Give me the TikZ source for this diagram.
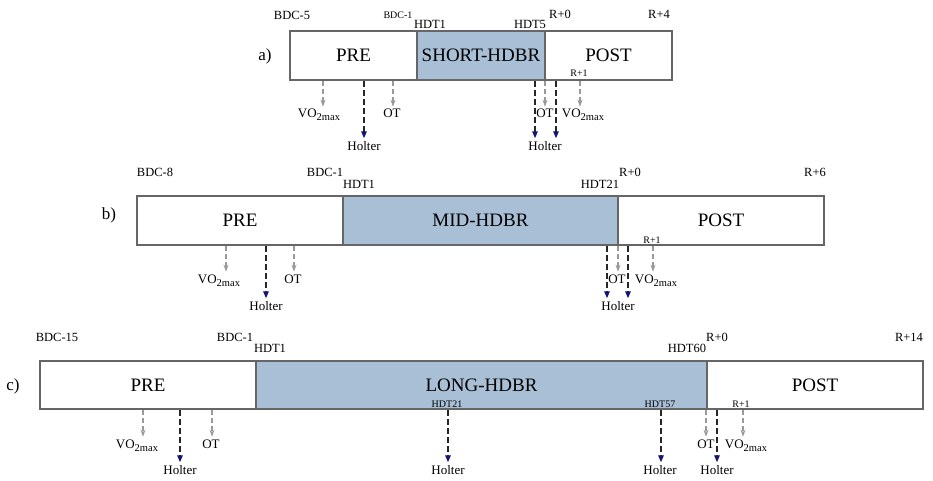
\documentclass[tikz,border=0pt]{standalone}
\usepackage{fontspec}
\setmainfont{Liberation Serif}
\usepackage{xcolor}
\usetikzlibrary{arrows.meta}

\definecolor{bedblue}{RGB}{169,191,214}
\definecolor{holterblue}{RGB}{20,20,115}
\newcommand{\vomax}{VO\raisebox{-3pt}{\fontsize{10.5}{11}\selectfont 2max}}

\begin{document}
\begin{tikzpicture}[x = 1pt, y = -1pt,
		phase/.style = {draw = black!60, line width = 1.2pt},
		bed/.style = {phase, fill = bedblue},
		big/.style = {font = \fontsize{19}{20}\selectfont},
		tagl/.style = {font = \fontsize{17}{18}\selectfont},
		day/.style = {anchor = base, inner sep = 1pt, font = \fontsize{12.5}{13}\selectfont},
		sday/.style = {day, font = \fontsize{10}{11}\selectfont},
		test/.style = {anchor = base, inner sep = 1pt, font = \fontsize{13}{14}\selectfont},
		measure/.style = {draw = black!40, line width = 1.1pt, dash pattern = on 5pt off 3pt, shorten > = 1.5pt, -{Stealth[length = 7pt, width = 5pt]}},
		holter/.style = {draw = black!85, line width = 1.5pt, dash pattern = on 6pt off 3pt, shorten > = 1.5pt, -{Triangle[length = 7pt, width = 5.5pt, color = holterblue]}}]
		
		\useasboundingbox (0,0) rectangle (933,481);
		
		\draw [phase] (290,31) rectangle node [big] (preA) {PRE} (417,80);
		\draw [bed] (417,31) rectangle node [big] (bedA) {SHORT-HDBR} (545,80);
		\draw [phase] (545,31) rectangle node [big] (postA) {POST} (672,80);
		\node [tagl] (tagA) at (265,56) {a)};
		\node [day] (bdc5A) at (292,20) {BDC-5};
		\node [sday] (bdc1A) at (398,19) {BDC-1};
		\node [day] (hdt1A) at (430,29) {HDT1};
		\node [day] (hdt5A) at (530,29) {HDT5};
		\node [day] (r0A) at (560,19) {R+0};
		\node [day] (r4A) at (659,19) {R+4};
		\node [sday] (r1A) at (579,77) {R+1};
		
		\node [test] (voA) at (319,118) {\vomax};
		\node [test] (hoA) at (364,150) {Holter};
		\node [test] (otA) at (392,118) {OT};
		\node [test] (ot2A) at (545,118) {OT};
		\node [test] (vo2A) at (583,118) {\vomax};
		\node [test] (ho2A) at (545,150) {Holter};
		
		\coordinate (m1A) at (323,81);
		\coordinate (h1A) at (364,81);
		\coordinate (m2A) at (393,81);
		\coordinate (h2A) at (535,81);
		\coordinate (m3A) at (545,81);
		\coordinate (h3A) at (556,81);
		\coordinate (m4A) at (580,81);
		\draw [measure] (m1A) -- (m1A |- voA.north);
		\draw [holter] (h1A) -- (h1A |- hoA.north);
		\draw [measure] (m2A) -- (m2A |- otA.north);
		\draw [holter] (h2A) -- (h2A |- ho2A.north);
		\draw [measure] (m3A) -- (m3A |- ot2A.north);
		\draw [holter] (h3A) -- (h3A |- ho2A.north);
		\draw [measure] (m4A) -- (m4A |- vo2A.north);
		
		\draw [phase] (137,196) rectangle node [big] (preB) {PRE} (343,245);
		\draw [bed] (343,196) rectangle node [big] (bedB) {MID-HDBR} (618,245);
		\draw [phase] (618,196) rectangle node [big] (postB) {POST} (824,245);
		\node [tagl] (tagB) at (109,215) {b)};
		\node [day] (bdc8B) at (155,176) {BDC-8};
		\node [day] (bdc1B) at (325,176) {BDC-1};
		\node [day] (hdt1B) at (359,189) {HDT1};
		\node [day] (hdt21B) at (600,189) {HDT21};
		\node [day] (r0B) at (630,176) {R+0};
		\node [day] (r6B) at (815,176) {R+6};
		\node [sday] (r1B) at (652,243) {R+1};
		
		\node [test] (voB) at (219,283) {\vomax};
		\node [test] (hoB) at (266,310) {Holter};
		\node [test] (otB) at (293,283) {OT};
		\node [test] (ot2B) at (617,283) {OT};
		\node [test] (vo2B) at (656,283) {\vomax};
		\node [test] (ho2B) at (618,310) {Holter};
		
		\coordinate (m1B) at (226,246);
		\coordinate (h1B) at (266,246);
		\coordinate (m2B) at (294,246);
		\coordinate (h2B) at (607,246);
		\coordinate (m3B) at (618,246);
		\coordinate (h3B) at (628,246);
		\coordinate (m4B) at (653,246);
		\draw [measure] (m1B) -- (m1B |- voB.north);
		\draw [holter] (h1B) -- (h1B |- hoB.north);
		\draw [measure] (m2B) -- (m2B |- otB.north);
		\draw [holter] (h2B) -- (h2B |- ho2B.north);
		\draw [measure] (m3B) -- (m3B |- ot2B.north);
		\draw [holter] (h3B) -- (h3B |- ho2B.north);
		\draw [measure] (m4B) -- (m4B |- vo2B.north);
		
		\draw [phase] (40,361) rectangle node [big] (preC) {PRE} (256,409);
		\draw [bed] (256,361) rectangle node [big] (bedC) {LONG-HDBR} (707,409);
		\draw [phase] (707,361) rectangle node [big] (postC) {POST} (923,409);
		\node [tagl] (tagC) at (13,386) {c)};
		\node [day] (bdc15C) at (57,341) {BDC-15};
		\node [day] (bdc1C) at (235,341) {BDC-1};
		\node [day] (hdt1C) at (270,352) {HDT1};
		\node [day] (hdt60C) at (687,352) {HDT60};
		\node [day] (r0C) at (717,341) {R+0};
		\node [day] (r14C) at (909,341) {R+14};
		\node [sday] (hdt21C) at (447,407) {HDT21};
		\node [sday] (hdt57C) at (660,407) {HDT57};
		\node [sday] (r1C) at (741,407) {R+1};
		
		\node [test] (voC) at (137,448) {\vomax};
		\node [test] (hoC) at (180,474) {Holter};
		\node [test] (otC) at (211,448) {OT};
		\node [test] (ho21C) at (448,474) {Holter};
		\node [test] (ho57C) at (660,474) {Holter};
		\node [test] (ot2C) at (706,448) {OT};
		\node [test] (ho2C) at (717,474) {Holter};
		\node [test] (vo2C) at (746,448) {\vomax};
		
		\coordinate (m1C) at (143,410);
		\coordinate (h1C) at (180,410);
		\coordinate (m2C) at (212,410);
		\coordinate (h2C) at (448,410);
		\coordinate (h3C) at (661,410);
		\coordinate (m3C) at (706,410);
		\coordinate (h4C) at (717,410);
		\coordinate (m4C) at (743,410);
		\draw [measure] (m1C) -- (m1C |- voC.north);
		\draw [holter] (h1C) -- (h1C |- hoC.north);
		\draw [measure] (m2C) -- (m2C |- otC.north);
		\draw [holter] (h2C) -- (h2C |- ho21C.north);
		\draw [holter] (h3C) -- (h3C |- ho57C.north);
		\draw [measure] (m3C) -- (m3C |- ot2C.north);
		\draw [holter] (h4C) -- (h4C |- ho2C.north);
		\draw [measure] (m4C) -- (m4C |- vo2C.north);
	\end{tikzpicture}
\end{document}
